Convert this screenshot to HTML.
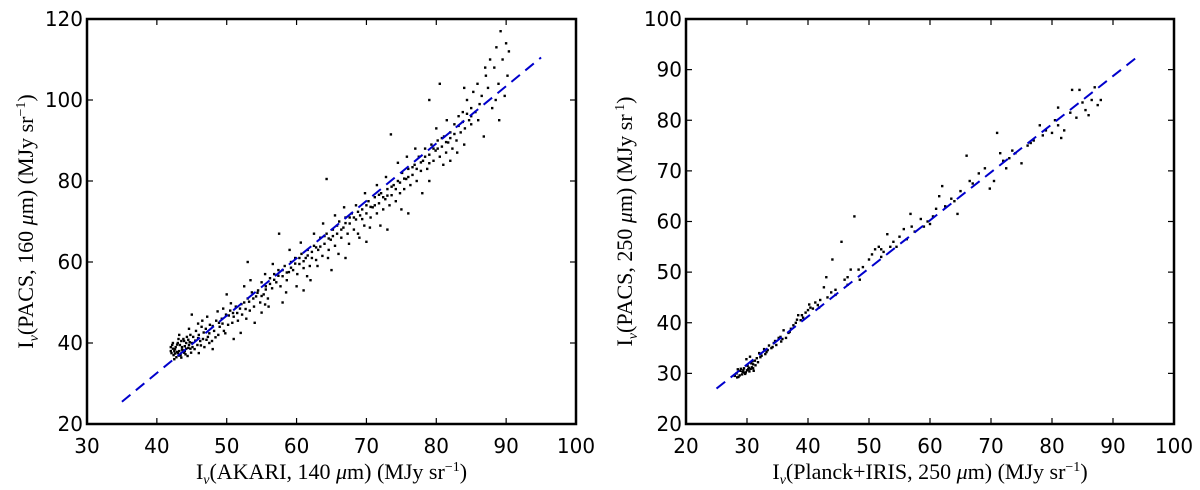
<!DOCTYPE html>
<html><head><meta charset="utf-8"><style>
html,body{margin:0;padding:0;background:#fff;width:1200px;height:490px;overflow:hidden}
svg{display:block}
.tick{font-family:"DejaVu Sans","Liberation Sans",sans-serif;font-size:20px;fill:#000}
.lab{font-family:"Liberation Serif","DejaVu Serif",serif;font-size:22px;fill:#000}
</style></head><body>
<svg id="fig" width="1200" height="490" viewBox="0 0 1200 490" xmlns="http://www.w3.org/2000/svg"></svg>
<script>
// ---- Left panel data ----
const leftXTicks=[30,40,50,60,70,80,90,100];
const leftYTicks=[20,40,60,80,100,120];
const leftFit=[[35,25.5],[95,110.5]];
const leftPoints=[[42,38],[42.2,39.5],[42.4,37],[42.6,38.5],[42.8,36.5],[43,40],[43.2,38],[43.4,37],[43.6,39],[43.8,41],[44,38],[44.2,40],[44.4,36.8],[44.6,39.5],[44.8,42],[42.1,37.5],[42.3,40],[42.5,36],[42.7,39],[42.9,37.8],[43.1,41],[43.3,39.5],[43.5,36.4],[43.7,38.2],[43.9,40.5],[44.1,37.2],[44.3,41.5],[44.5,38.8],[44.7,40.2],[44.9,37.6],[42,39],[42.5,38],[43,37.5],[43.5,40.5],[44,39.2],[45,40],[45.2,41.5],[45.4,38.5],[45.6,43],[45.8,39.5],[46,42],[46.2,40.5],[46.4,44],[46.6,41],[46.8,39],[47,43.5],[47.3,41.5],[47.6,44.5],[47.9,40.5],[48.2,43],[48.5,45.5],[48.8,42],[49,44],[49.3,46],[49.6,43],[49.9,47],[50.2,44.5],[50.5,48],[50.8,45],[51,46.5],[51.3,49],[51.6,45.5],[51.9,48.5],[52.2,47],[52.5,50],[52.8,46],[53,51],[53.3,48],[53.6,52.5],[53.9,49],[54.2,51.5],[54.5,53],[54.8,50],[55,55],[55.3,52],[55.6,54],[55.9,51],[56.2,56],[56.5,53.5],[56.8,57],[57.1,55],[57.4,58],[57.7,54],[58,56.5],[58.3,59],[58.6,55.5],[58.9,57.5],[59.2,60],[59.5,58],[59.8,61],[60.1,57],[60.4,59.5],[60.7,62],[61,58.5],[61.3,61],[61.6,63],[61.9,59],[62.2,62.5],[62.5,64],[62.8,60.5],[63.1,63],[63.4,66],[63.7,61.5],[64,64.5],[64.3,67],[64.6,63],[64.9,65.5],[65.2,68],[65.5,64],[65.8,67],[66.1,70],[66.4,66],[66.7,68.5],[67,71],[67.3,67],[67.6,69.5],[67.9,72],[68.2,68],[68.5,70.5],[68.8,67],[69.1,71.5],[69.4,73],[69.7,69],[70,72],[70.3,75],[70.6,71],[70.9,73.5],[71.2,76],[71.5,72],[71.8,74.5],[72.1,77],[72.4,73],[72.7,75.5],[73,78],[73.3,74],[73.6,76.5],[73.9,79],[74.2,75],[74.5,80],[74.8,77],[75.1,82],[75.4,78],[75.7,80.5],[76,83],[76.3,79],[76.6,81.5],[76.9,84],[77.2,80],[77.5,86],[77.8,82.5],[78.1,85],[78.4,88],[78.7,83],[79,86.5],[79.3,89],[79.6,85],[79.9,87.5],[80.2,90],[80.5,86],[80.8,88.5],[81.1,91],[81.4,87],[81.7,89.5],[82,92],[82.3,88],[82.6,94],[82.9,90],[83.2,96],[83.5,92],[83.8,97],[84.1,93],[84.4,100],[84.7,95],[85,98],[85.3,102],[85.6,97],[85.9,104],[86.2,99],[86.5,101],[86.8,91],[87.1,106],[87.4,103],[87.7,110],[88,98],[88.3,108],[88.6,113],[88.9,104],[89.2,117],[89.5,110],[89.8,101],[90,114],[90.2,106],[90.4,112],
[57.5,67],[64.3,80.5],[53,60],[73.5,91.5],[79,100],[62,55.5],[56,49],[45,47],[47.5,40],[50,52],[52,42.5],[55,47.5],[60,54],[63,59],[66,62],[69,66],[72,69],[75,73],[78,77],[81,84],[84,89],[48,38.5],[46,37.5],[51,41],[54,45],[58,50],[61,53],[65,58],[67,61],[70,65],[73,68],[76,72],[79,80],[82,85],[85,94],[83,87],[86,95],[46.5,45.5],[49.5,48.5],[52.5,54],[55.5,57],[59,63],[62.5,67],[65.5,71.5],[68.5,74],[71.5,79],[74.5,84.5],[77,88],[80,93],[81.5,95],[84,103],[80.5,104],[87,108],[88.5,100],[89,95],[43.2,42],[44.6,43.5],[45.9,44.8],[47.2,46.5],[48.7,47.8],[50.6,49.8],[53.4,55.5],[56.6,59.5],[60.6,64.8],[63.8,69.5],[66.8,73.5],[69.8,77],[72.8,81],[75.8,86],[70.5,68.5],[67.5,64.5],[64.5,61],[61.5,56.5],[58.5,52.5],[55.5,49.5],
[42.3,38.6],[42.6,37.4],[42.9,39.6],[43.2,36.9],[43.6,38.4],[43.9,37.6],[44.2,38.6],[44.5,40.8],[44.8,38.6],[45.1,39],[45.5,40.6],[45.9,41.2],[46.3,39.4],[46.7,42.6],[47.1,40.8],[47.5,42.4],[48,44.2],[48.4,41.4],[48.9,45],[49.4,44.8],[49.8,42.4],[50.3,46.8],[50.9,47.4],[51.5,47.4],[52.1,49.6],[52.7,48.4],[53.2,50.2],[53.8,51],[54.4,52.4],[55,51.6],[55.6,53.2],[56.2,54.6],[56.8,55.6],[57.4,56.6],[58,58],[58.6,57.4],[59.2,58.6],[59.8,59.6],[60.4,61],[61,60.2],[61.6,61.6],[62.2,61],[62.8,63.6],[63.4,63.8],[64,66.4],[64.6,65.8],[65.2,66.4],[65.8,69],[66.4,68],[67,69.6],[67.6,71],[68.2,71],[68.8,72.4],[69.4,70.6],[70,74],[70.6,73.6],[71.2,74],[71.8,76.6],[72.4,76],[73,76.4],[73.6,78.6],[74.2,78],[74.8,79.6],[75.4,80.6],[76,81],[76.6,83.4],[77.2,83],[77.8,84.6],[78.4,86],[79,84.4],[79.6,88],[80.2,88],[80.8,90.6],[81.4,89.6],[82,90.6],[82.6,91.6],[83.2,93.6],[83.8,94.6],[84.4,96.6],[85,96]];
// ---- Right panel data ----
const rightXTicks=[20,30,40,50,60,70,80,90,100];
const rightYTicks=[20,30,40,50,60,70,80,90,100];
const rightFit=[[25,27],[94.5,93]];
const rightPoints=[[28,29.5],[28.3,30],[28.6,29.3],[28.9,30.5],[29.2,29.8],[29.5,31],[29.8,30.2],[30.1,31.5],[30.4,30.4],[30.7,32],[31,31],[31.3,32.5],[29,30.9],[29.6,30.1],[30.2,30.8],[30.8,31.2],[31.1,30.5],[28.5,30.8],[29.9,32.8],[30.5,33.3],[31.6,33],[32,34],[32.4,33.5],[32.8,34.8],[33.2,34.2],[33.6,35.5],[34,35],[34.4,36],[34.8,35.6],[35.2,37],[35.6,36.3],[36,38.5],[36.4,37],[36.8,38],[37.2,38.8],[37.6,39.5],[38,40],[38.4,41.5],[38.8,40.5],[39.2,41],[39.6,42],[40,42.5],[40.4,43],[40.8,42.8],[41.2,44],[41.6,43.5],[42.6,47],[43,49],[43.2,45],[43.8,46],[44,52.5],[44.5,46.5],[45.5,56],[46,48.5],[46.5,49],[47,50.5],[47.6,61],[48.3,50.5],[49,51],[50,52.5],[50.5,53.5],[51,54.5],[51.6,55],[52,53],[52.4,54],[53,57.5],[53.5,55],[54,56],[55,57],[55.7,58.5],[56.2,56.5],[56.8,61.5],[57.5,58],[58.5,60.5],[59,59],[59.6,60],[60.5,61],[61,62.5],[61.5,65],[62,67],[62.5,63],[63.5,64.5],[64.5,61.5],[65,66],[66,73],[67,67.5],[68,69.5],[69,70.5],[69.8,66.5],[70.5,68],[71,77.5],[71.5,73.5],[72,72],[72.5,70.5],[73,72.5],[74,73.5],[75,71.5],[76,75],[77,76],[78,79],[78.5,77],[79,78],[80,77.5],[80.5,80],[81,82.5],[81.5,76.5],[82,78],[83,81.5],[83.3,86],[84,80.5],[84.5,86],[85,83.5],[85.5,82],[86,81],[86.5,84],[87,86.5],[87.5,83],[88,84],[81,79],[76.5,75.5],[73.5,74],[66.5,68],[64,64],[60,59.5],[57,59],[54.5,55],[52,54.5],[48.5,48.5],[46.5,47.5],[44.5,45.5],[42,44.5],[39,41.5],[37,38.2],[35.5,37.2],[34.2,35.2],[33,33.8],[31.8,32.2],
[28.4,29.2],[28.8,29.6],[29.3,30.3],[29.7,29.9],[30,30.6],[30.3,31.1],[30.6,30.9],[31,31.8],[31.4,31.6],[29.4,30.6],[30.9,32.4],[32.2,33.2],[33.4,34.6],[34.6,36.4],[35.8,36.8],[38.2,40.6],[40.2,43.6],[41.8,43]];

const NS='http://www.w3.org/2000/svg';
const svg=document.getElementById('fig');
function mk(tag,attrs,parent){const e=document.createElementNS(NS,tag);for(const k in attrs)e.setAttribute(k,attrs[k]);(parent||svg).appendChild(e);return e;}

function panel(cfg){
  const g=mk('g',{});
  
  
  const {x0,x1,y0,y1}=cfg.box;
  const xmin=cfg.xt[0],xmax=cfg.xt[cfg.xt.length-1],ymin=cfg.yt[0],ymax=cfg.yt[cfg.yt.length-1];
  const sx=v=>x0+(v-xmin)/(xmax-xmin)*(x1-x0);
  const sy=v=>y1-(v-ymin)/(ymax-ymin)*(y1-y0);
  const pg=mk('g',{},g);
  
  
  cfg.pts.forEach(p=>{
    const r=mk('rect',{x:(sx(p[0])-1.2).toFixed(1),y:(sy(p[1])-1.2).toFixed(1),width:2.4,height:2.4,fill:'#000'},pg);
    
    
  });
  const ln=mk('line',{x1:sx(cfg.fit[0][0]),y1:sy(cfg.fit[0][1]),x2:sx(cfg.fit[1][0]),y2:sy(cfg.fit[1][1]),stroke:'#0000cc','stroke-width':2,'stroke-dasharray':'11 7'},g);
  
  
  const fr=mk('rect',{x:x0,y:y0,width:x1-x0,height:y1-y0,fill:'none',stroke:'#000','stroke-width':2.5},g);
  
  
  cfg.xt.forEach(v=>{
    const x=sx(v);
    mk('line',{x1:x,y1:y1,x2:x,y2:y1-6,stroke:'#000','stroke-width':1.2},g);
    mk('line',{x1:x,y1:y0,x2:x,y2:y0+6,stroke:'#000','stroke-width':1.2},g);
    const t=mk('text',{x:x,y:y1+29,'text-anchor':'middle',class:'tick'},g);
    t.textContent=v;
    
    
  });
  cfg.yt.forEach(v=>{
    const y=sy(v);
    mk('line',{x1:x0,y1:y,x2:x0+6,y2:y,stroke:'#000','stroke-width':1.2},g);
    mk('line',{x1:x1,y1:y,x2:x1-6,y2:y,stroke:'#000','stroke-width':1.2},g);
    const t=mk('text',{x:x0-4,y:y+7,'text-anchor':'end',class:'tick'},g);
    t.textContent=v;
    
    
  });
  const xl=mk('text',{x:(x0+x1)/2,y:479,'text-anchor':'middle',class:'lab'},g);
  xl.innerHTML=cfg.xlab;
  
  
  const yl=mk('text',{x:0,y:0,'text-anchor':'middle',class:'lab',transform:`translate(${x0-54},${(y0+y1)/2}) rotate(-90)`},g);
  yl.innerHTML=cfg.ylab;
  
  
}
const sub='<tspan dy="5" font-size="14" font-style="italic">ν</tspan><tspan dy="-5">';
panel({name:'left-panel',box:{x0:87,x1:576,y0:19,y1:424},xt:leftXTicks,yt:leftYTicks,pts:leftPoints,fit:leftFit,
 xlab:'I'+sub+'(AKARI, 140 <tspan font-style="italic">μ</tspan>m) (MJy sr<tspan dy="-8" font-size="14">−1</tspan><tspan dy="8">)</tspan></tspan>',
 ylab:'I'+sub+'(PACS, 160 <tspan font-style="italic">μ</tspan>m) (MJy sr<tspan dy="-8" font-size="14">−1</tspan><tspan dy="8">)</tspan></tspan>'});
panel({name:'right-panel',box:{x0:686,x1:1174,y0:19,y1:424},xt:rightXTicks,yt:rightYTicks,pts:rightPoints,fit:rightFit,
 xlab:'I'+sub+'(Planck+IRIS, 250 <tspan font-style="italic">μ</tspan>m) (MJy sr<tspan dy="-8" font-size="14">−1</tspan><tspan dy="8">)</tspan></tspan>',
 ylab:'I'+sub+'(PACS, 250 <tspan font-style="italic">μ</tspan>m) (MJy sr<tspan dy="-8" font-size="14">  1</tspan><tspan dy="8">)</tspan></tspan>'});
</script>
</body></html>
